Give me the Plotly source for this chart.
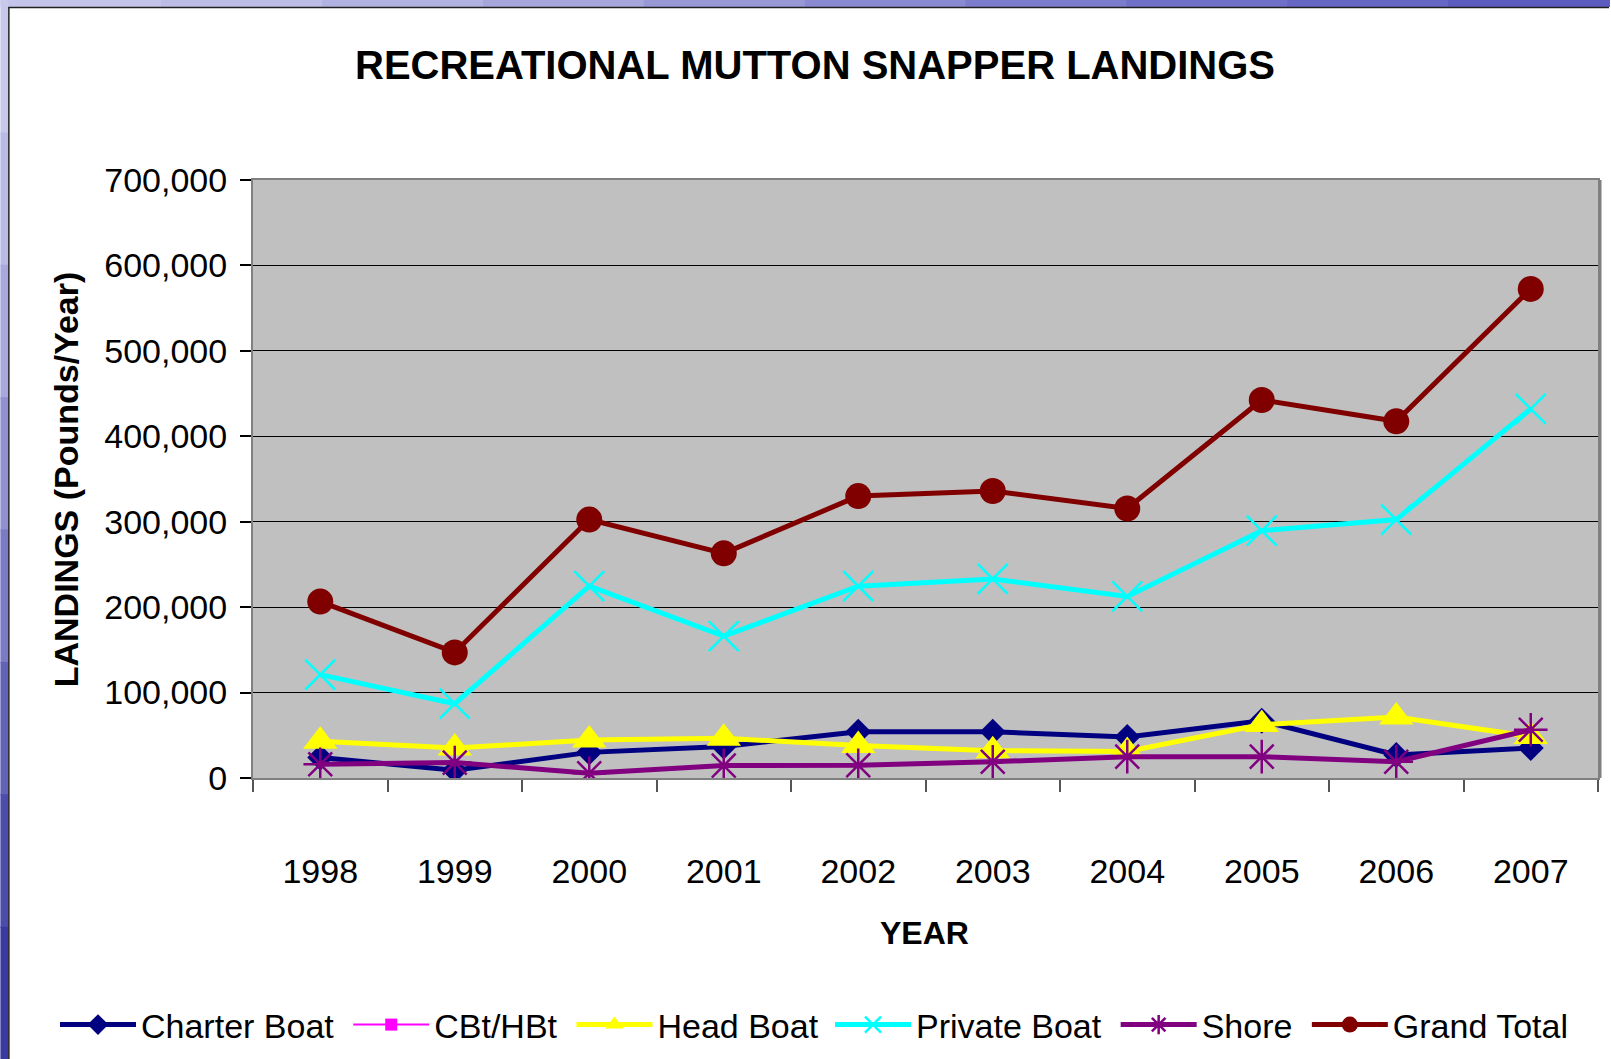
import plotly.graph_objects as go

years = ["1998", "1999", "2000", "2001", "2002", "2003", "2004", "2005", "2006", "2007"]
charter_boat = [24000, 9000, 30000, 37000, 54000, 54000, 48000, 67000, 27000, 35000]
cbt_hbt = [None] * 10
head_boat = [43000, 35000, 44500, 46500, 38000, 32000, 31000, 62500, 71500, 48500]
private_boat = [121000, 87000, 224500, 166000, 224500, 233000, 212500, 289500, 302500, 432000]
shore = [16000, 18000, 5500, 14500, 15000, 19000, 25000, 25000, 19000, 56500]
grand_total = [206500, 147000, 302500, 263000, 330000, 336000, 315500, 442500, 417500, 572500]

FONT = "Liberation Sans, Arial, sans-serif"
W, H = 1611, 1059
L, R, T, B = 253, 11, 180, 281
PW, PH = W - L - R, H - T - B
NB = "\u00a0"


def px(x):
    return (x - L) / PW


def py(y):
    return (H - B - y) / PH


fig = go.Figure()

fig.add_trace(go.Scatter(x=years, y=charter_boat, name="Charter Boat" + NB, mode="lines+markers",
                         legend="legend",
                         line=dict(color="#000080", width=5),
                         marker=dict(symbol="diamond", size=20, color="#000080")))
fig.add_trace(go.Scatter(x=years, y=cbt_hbt, name="CBt/HBt" + NB, mode="lines+markers",
                         legend="legend",
                         line=dict(color="#FF00FF", width=2),
                         marker=dict(symbol="square", size=12, color="#FF00FF")))
fig.add_trace(go.Scatter(x=years, y=head_boat, name="Head Boat" + NB, mode="lines+markers",
                         legend="legend",
                         line=dict(color="#FFFF00", width=5),
                         marker=dict(symbol="triangle-up", size=30, color="#FFFF00")))
fig.add_trace(go.Scatter(x=years, y=private_boat, name="Private Boat" + NB, mode="lines+markers",
                         legend="legend2",
                         line=dict(color="#00FFFF", width=5),
                         marker=dict(symbol="x-thin", size=30, color="#00FFFF",
                                     line=dict(color="#00FFFF", width=2.5))))
fig.add_trace(go.Scatter(x=years, y=shore, name="Shore" + NB, mode="lines+markers",
                         legend="legend2",
                         line=dict(color="#800080", width=5),
                         marker=dict(symbol="asterisk", size=28, color="#800080",
                                     line=dict(color="#800080", width=2.5))))
fig.add_trace(go.Scatter(x=years, y=grand_total, name="Grand Total", mode="lines+markers",
                         legend="legend2",
                         line=dict(color="#800000", width=5),
                         marker=dict(symbol="circle", size=26, color="#800000")))

shapes = []
# textured blue frame (top and left strips)
top_cols = ["#c4c4ea", "#bcbce6", "#b2b2e2", "#a6a6dc", "#9898d6", "#8a8ad2", "#7c7ccc", "#7070c8", "#6666c4", "#5c5cc0"]
seg = W / len(top_cols)
for i, c in enumerate(top_cols):
    shapes.append(dict(type="rect", xref="paper", yref="paper", x0=px(i * seg), x1=px((i + 1) * seg + 1),
                       y0=py(7), y1=py(0), fillcolor=c, line=dict(width=0), layer="above"))
left_cols = ["#c8c8ec", "#babae6", "#a8a8de", "#9090d2", "#7a7ac6", "#6262b8", "#4c4cac", "#3a3aa0"]
segh = H / len(left_cols)
for i, c in enumerate(left_cols):
    shapes.append(dict(type="rect", xref="paper", yref="paper", x0=px(0), x1=px(8),
                       y0=py((i + 1) * segh + 1), y1=py(i * segh), fillcolor=c, line=dict(width=0), layer="above"))
# dark panel edge
shapes.append(dict(type="line", xref="paper", yref="paper", x0=px(8), x1=px(W), y0=py(7.5), y1=py(7.5),
                   line=dict(color="#202020", width=1.5)))
shapes.append(dict(type="line", xref="paper", yref="paper", x0=px(8.5), x1=px(8.5), y0=py(7), y1=py(H),
                   line=dict(color="#202020", width=1.5)))
# thicker grey right border of the plot area
shapes.append(dict(type="line", xref="paper", yref="paper", x0=1.0015, x1=1.0015, y0=0, y1=1,
                   line=dict(color="#808080", width=3)))

annotations = [
    dict(text="<b>RECREATIONAL MUTTON SNAPPER LANDINGS</b>", xref="paper", yref="paper",
         x=px(816), y=py(65), showarrow=False, xanchor="center", yanchor="middle",
         font=dict(family=FONT, size=40, color="black")),
    dict(text="<b>LANDINGS (Pounds/Year)</b>", xref="paper", yref="paper",
         x=px(66), y=0.5, showarrow=False, textangle=-90, xanchor="center", yanchor="middle",
         font=dict(family=FONT, size=34, color="black")),
    dict(text="<b>YEAR</b>", xref="paper", yref="paper",
         x=px(925), y=py(933), showarrow=False, xanchor="center", yanchor="middle",
         font=dict(family=FONT, size=32, color="black")),
]

legend_common = dict(orientation="h", xref="container", yref="container", y=1 - 1025 / H,
                     xanchor="left", yanchor="middle", font=dict(family=FONT, size=34, color="black"),
                     itemwidth=76, bgcolor="rgba(0,0,0,0)", traceorder="normal")

fig.update_layout(
    width=W, height=H,
    margin=dict(l=L, r=R, t=T, b=B, pad=0),
    paper_bgcolor="white",
    plot_bgcolor="#C0C0C0",
    font=dict(family=FONT, color="black"),
    showlegend=True,
    legend=dict(x=55 / W, **legend_common),
    legend2=dict(x=830 / W, **legend_common),
    shapes=shapes,
    annotations=annotations,
    xaxis=dict(type="category", tickson="boundaries", ticks="outside", ticklen=12, tickwidth=1.5,
               tickcolor="#555555", showline=True, linecolor="#808080", linewidth=2, mirror=True,
               showgrid=False, tickfont=dict(family=FONT, size=34, color="black"),
               ticklabelstandoff=62, range=[-0.5, 9.5]),
    yaxis=dict(range=[0, 700000], dtick=100000, tickformat=",d", ticks="outside", ticklen=11,
               tickcolor="black", tickwidth=1.5, showline=True, linecolor="#808080", linewidth=2,
               mirror=True, showgrid=True, gridcolor="black", gridwidth=1, zeroline=False,
               tickfont=dict(family=FONT, size=34, color="black"), ticklabelstandoff=6),
)

fig.write_html("out.html", config={"displayModeBar": False},
               post_script="document.body.style.margin='0px';document.body.style.padding='0px';")
